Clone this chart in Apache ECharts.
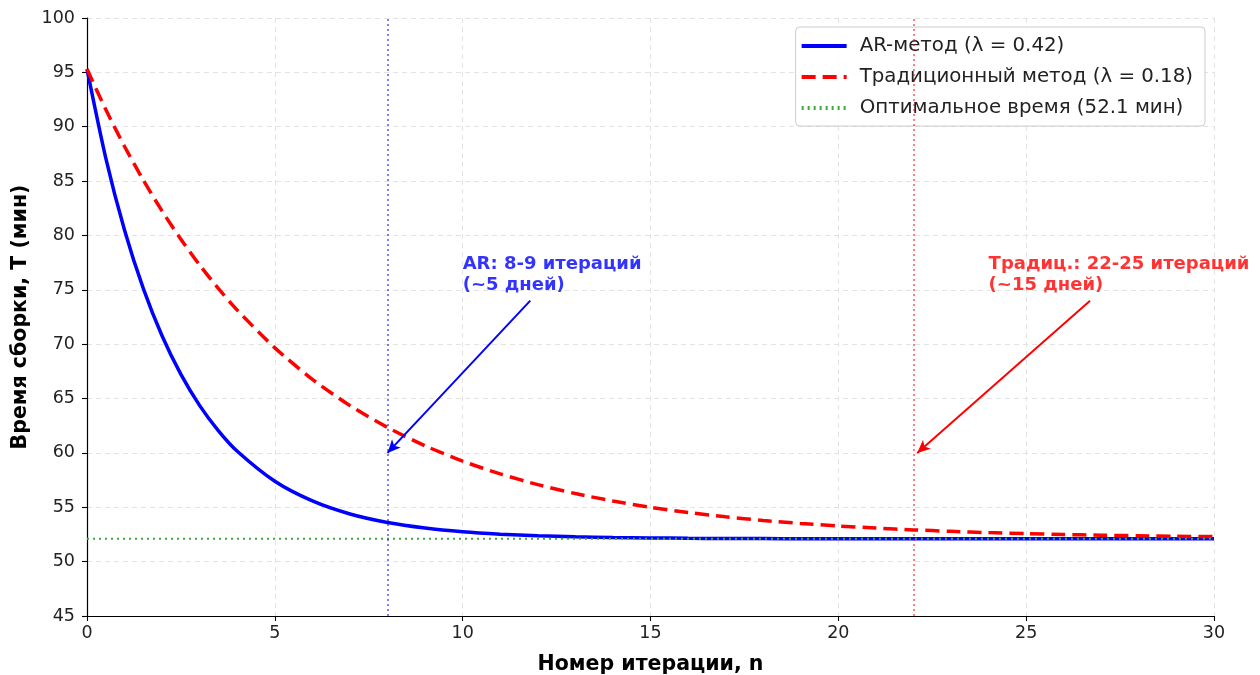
<!DOCTYPE html>
<html><head><meta charset="utf-8">
<script src="https://cdn.jsdelivr.net/npm/echarts@6/dist/echarts.min.js"></script>
<style>html,body{margin:0;padding:0;background:#fff}#c{width:1260px;height:675px}</style>
</head><body><div id="c"></div>
<script>
const iterations = [0,0.5,1,1.5,2,2.5,3,3.5,4,5,6,7,8,9,10,11,12,13,14,15,16,17,18,19,20,21,22,23,24,25,26,27,28,29,30];
const arTime = [95.3,87.12,80.48,75.11,70.75,67.22,64.35,62.03,60.15,57.39,55.58,54.38,53.60,53.09,52.75,52.53,52.38,52.28,52.22,52.18,52.15,52.13,52.12,52.11,52.11,52.10,52.10,52.10,52.10,52.10,52.10,52.10,52.10,52.10,52.10];
const tradTime = [95.3,91.58,88.18,85.08,82.24,79.64,77.27,75.11,73.13,69.66,66.77,64.35,62.34,60.65,59.24,58.07,57.08,56.26,55.58,55.00,54.52,54.12,53.79,53.51,53.28,53.09,52.92,52.79,52.67,52.58,52.50,52.43,52.38,52.33,52.30];
const optimalTime = 52.1;
const xRange = [0, 30];
const arMark = 8, tradMark = 22;
const arText = 'AR: 8-9 итераций\n(~5 дней)';
const tradText = 'Традиц.: 22-25 итераций\n(~15 дней)';
const arTextPos = [10, 74.45], arArrowFrom = [11.8, 74], arArrowTo = [8, 60];
const tradTextPos = [24, 74.45], tradArrowFrom = [26.7, 74], tradArrowTo = [22.1, 60];
const names = ['AR-метод (λ = 0.42)', 'Традиционный метод (λ = 0.18)', 'Оптимальное время (52.1 мин)'];

const F = 'DejaVu Sans';
const chart = echarts.init(document.getElementById('c'));
const zip = (xs, ys) => xs.map((x, i) => [x, ys[i]]);
const arrowLine = (from, to, color) => ({
  silent: true, symbol: ['none', 'arrow'], symbolSize: [9, 13],
  lineStyle: { color, width: 2, type: 'solid' }, label: { show: false },
  data: [[{ coord: from }, { coord: to }]], animation: false
});
const textPoint = (pos, txt, color) => ({
  type: 'scatter', data: [pos], symbolSize: 0, silent: true, z: 10,
  label: { show: true, position: [0, 0], align: 'left', verticalAlign: 'bottom',
    formatter: txt, color, fontFamily: F, fontWeight: 'bold', fontSize: 18, lineHeight: 21,
    textBorderWidth: 0 }
});
const axisCommon = {
  axisLine: { show: true, onZero: false, lineStyle: { color: '#000', width: 1.2 } },
  axisTick: { show: true, length: 5, lineStyle: { color: '#000', width: 1.1 } },
  splitLine: { show: true, lineStyle: { color: '#e3e3e3', type: [5, 4], width: 1 } }
};
chart.setOption({
  animation: false,
  grid: { left: 87, right: 46, top: 18, bottom: 59, containLabel: false, outerBoundsMode: 'none' },
  xAxis: Object.assign({
    type: 'value', min: xRange[0], max: xRange[1], interval: 5,
    name: 'Номер итерации, n', nameLocation: 'middle', nameGap: 38,
    nameTextStyle: { fontFamily: F, fontWeight: 'bold', fontSize: 20.5, color: '#000' },
    axisLabel: { fontFamily: F, fontSize: 17.5, color: '#222', margin: 8 }
  }, axisCommon),
  yAxis: Object.assign({
    type: 'value', min: 45, max: 100, interval: 5,
    name: 'Время сборки, T (мин)', nameLocation: 'middle', nameGap: 51,
    nameTextStyle: { fontFamily: F, fontWeight: 'bold', fontSize: 20.5, color: '#000' },
    axisLabel: { fontFamily: F, fontSize: 17.5, color: '#222', margin: 12 }
  }, axisCommon),
  legend: {
    right: 55, top: 27, orient: 'vertical', itemWidth: 45, itemHeight: 20, itemGap: 11,
    padding: [9, 12, 8, 4], backgroundColor: 'rgba(255,255,255,0.85)',
    borderColor: '#cccccc', borderWidth: 1, borderRadius: 4,
    itemStyle: { opacity: 0 },
    lineStyle: { width: 4 },
    textStyle: { fontFamily: F, fontSize: 19.8, color: '#222', padding: [0, 0, 0, 8] },
    data: names
  },
  series: [
    {
      type: 'line', name: 'vlines', data: [], silent: true, z: 1,
      markLine: {
        silent: true, symbol: 'none', label: { show: false }, animation: false,
        data: [
          { xAxis: arMark, lineStyle: { color: 'rgba(0,0,255,0.5)', type: [2, 3], width: 2 } },
          { xAxis: tradMark, lineStyle: { color: 'rgba(255,0,0,0.5)', type: [2, 3], width: 2 } }
        ]
      }
    },
    {
      type: 'line', name: names[0], data: zip(iterations, arTime), smooth: 0.25,
      showSymbol: false, symbol: 'none', z: 3,
      lineStyle: { color: '#0000ff', width: 3.5 }, itemStyle: { color: '#0000ff' },
      markLine: arrowLine(arArrowFrom, arArrowTo, '#0000ff')
    },
    {
      type: 'line', name: names[1], data: zip(iterations, tradTime), smooth: 0.25,
      showSymbol: false, symbol: 'none', z: 3,
      lineStyle: { color: '#ff0000', width: 3.5, type: [14, 7] }, itemStyle: { color: '#ff0000' },
      markLine: arrowLine(tradArrowFrom, tradArrowTo, '#ff0000')
    },
    {
      type: 'line', name: names[2], data: [[xRange[0], optimalTime], [xRange[1], optimalTime]],
      showSymbol: false, symbol: 'none', z: 4,
      lineStyle: { color: '#3fa83f', width: 2, type: [2, 4] }, itemStyle: { color: '#3fa83f' }
    },
    textPoint(arTextPos, arText, '#0000ff'),
    textPoint(tradTextPos, tradText, '#ff0000')
  ]
});
</script></body></html>
